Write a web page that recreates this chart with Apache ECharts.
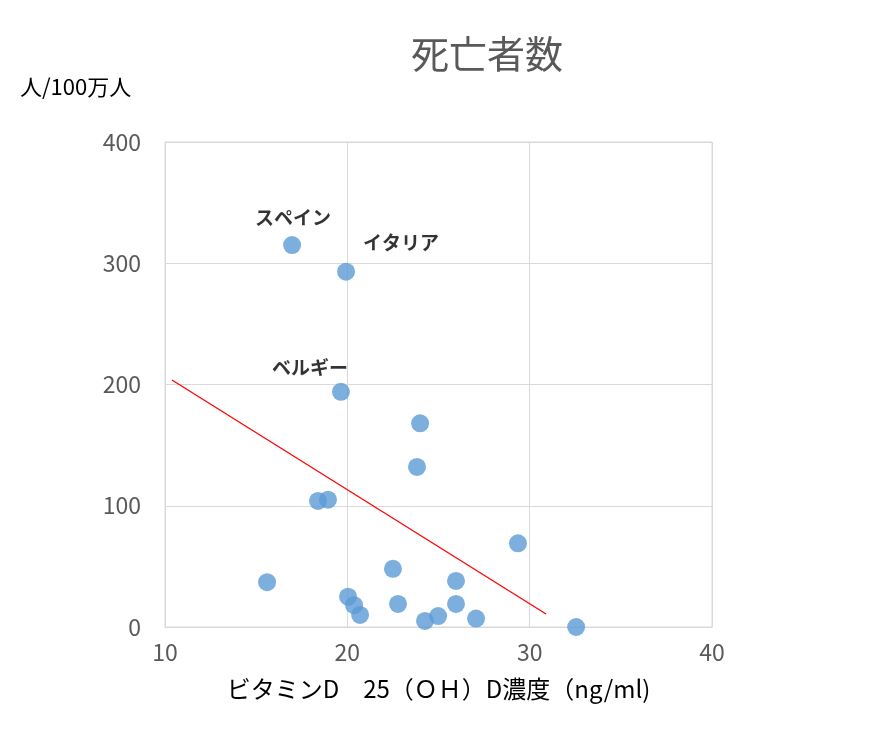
<!DOCTYPE html>
<html><head><meta charset="utf-8">
<script src="https://cdn.jsdelivr.net/npm/echarts@6/dist/echarts.min.js"></script>
<style>html,body{margin:0;padding:0;background:#fff}#c{width:892px;height:735px}</style>
</head><body><div id="c"></div>
<script>
const xValues=[16.97,19.93,19.65,23.99,23.82,18.39,18.94,15.6,22.5,29.36,25.96,20.04,20.37,20.7,22.78,25.96,24.98,24.26,27.06,32.55];
const yValues=[315,293,194,168,132,104,105,37,48,69,38,25,18,10,19,19,9,5,7,0];
const pointLabels=['スペイン','イタリア','ベルギー','','','','','','','','','','','','','','','','',''];
const trendX=[10.38,30.9];
const trendY=[203.7,10.7];
const font='"Noto Sans CJK JP","Noto Sans",sans-serif';
const labelOffsets={'スペイン':[1,-27],'イタリア':[55,-29],'ベルギー':[-31,-24]};
const chart=echarts.init(document.getElementById('c'));
chart.setOption({
  animation:false,
  title:{text:'死亡者数',left:482,top:30,textAlign:'center',textStyle:{color:'#595959',fontSize:38,fontWeight:'normal',fontFamily:font}},
  grid:{left:165,right:180,top:142,bottom:108},
  xAxis:{type:'value',min:10,max:40,interval:10,name:'ビタミンD　25（ＯＨ）D濃度（ng/ml)',nameLocation:'middle',nameGap:50,
    nameTextStyle:{color:'#000',fontSize:24,fontFamily:font},
    axisLine:{show:true,lineStyle:{color:'#d9d9d9'}},axisTick:{show:false},
    axisLabel:{color:'#595959',fontSize:23,margin:14,fontFamily:font},
    splitLine:{show:true,lineStyle:{color:'#d9d9d9'}}},
  yAxis:{type:'value',min:0,max:400,interval:100,
    axisLine:{show:true,lineStyle:{color:'#d9d9d9'}},axisTick:{show:false},
    axisLabel:{color:'#595959',fontSize:23,margin:24,fontFamily:font},
    splitLine:{show:true,lineStyle:{color:'#d9d9d9'}}},
  graphic:[{type:'text',left:20,top:76,style:{text:'人/100万人',fontSize:22,fill:'#000',fontFamily:font}},
    {type:'rect',shape:{x:165,y:142,width:547,height:485},style:{fill:'none',stroke:'#d9d9d9'}}],
  series:[
    {type:'line',data:trendX.map((x,i)=>[x,trendY[i]]),symbol:'none',lineStyle:{color:'#ff0000',width:1.3},z:1},
    {type:'scatter',symbolSize:18,itemStyle:{color:'#5b9bd5'},z:3,
     data:xValues.map((x,i)=>({value:[x,yValues[i]],label:{show:!!pointLabels[i],formatter:pointLabels[i],position:'inside',offset:labelOffsets[pointLabels[i]]||[0,0],color:'#000',fontWeight:'bold',fontSize:19,fontFamily:font}}))}
  ]
});
</script></body></html>
